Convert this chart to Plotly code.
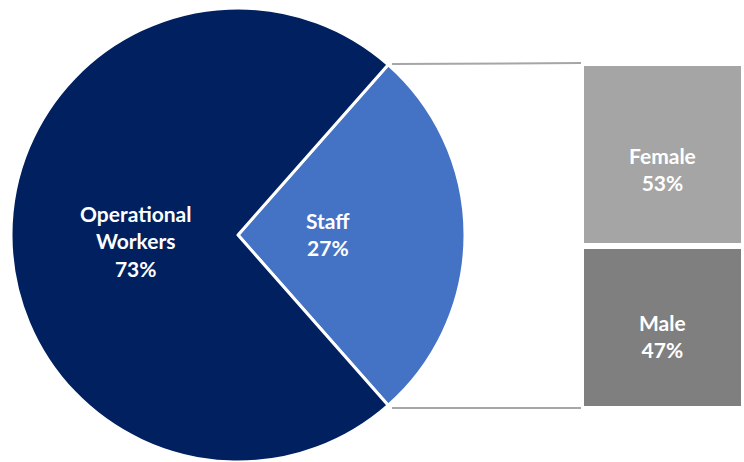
import plotly.graph_objects as go

W, H = 744, 462

pie_labels = ["Staff", "Operational<br>Workers"]
pie_values = [27, 73]
pie_colors = ["#4472C4", "#002060"]

bar_labels = ["Male", "Female"]
bar_values = [47, 53]
bar_colors = ["#7F7F7F", "#A5A5A5"]

FONT = "Lato, Calibri, Arial"
FS = 21

fig = go.Figure()

fig.add_trace(go.Pie(
    labels=pie_labels,
    values=pie_values,
    sort=False,
    direction="clockwise",
    rotation=90 - pie_values[0] / 100 * 360 / 2,
    marker=dict(colors=pie_colors, line=dict(color="white", width=3)),
    textinfo="none",
    domain=dict(x=[10 / W, 466 / W], y=[0, 1 - 8 / H]),
    showlegend=False,
    hoverinfo="label+percent",
))

for lab, val, col in zip(bar_labels, bar_values, bar_colors):
    fig.add_trace(go.Bar(
        x=["Staff"], y=[val], name=lab,
        marker=dict(color=col, line=dict(color="white", width=6)),
        width=1,
        showlegend=False,
        hoverinfo="name+y",
        xaxis="x", yaxis="y",
    ))

fig.update_layout(
    width=W, height=H,
    margin=dict(l=0, r=0, t=0, b=0),
    paper_bgcolor="white", plot_bgcolor="white",
    barmode="stack",
    bargap=0,
    xaxis=dict(domain=[581 / W, 1], visible=False, range=[-0.5, 0.5]),
    yaxis=dict(domain=[1 - 409 / H, 1 - 63 / H], visible=False, range=[0, 100]),
)

tot = sum(pie_values)
# pie labels
pie_label_pos = [(328, 234), (135, 241)]
for lab, val, (px, py) in zip(pie_labels, pie_values, pie_label_pos):
    fig.add_annotation(xref="paper", yref="paper", x=px / W, y=1 - py / H,
                       text=f"<b>{lab}<br>{round(val / tot * 100)}%</b>",
                       showarrow=False, xanchor="center", yanchor="middle",
                       font=dict(color="white", size=FS, family=FONT))

# bar labels
cum = 0
shifts = [-8, -14]
for lab, val, sh in zip(bar_labels, bar_values, shifts):
    fig.add_annotation(xref="x", yref="y", x="Staff", y=cum + val / 2, yshift=sh,
                       text=f"<b>{lab}<br>{val}%</b>",
                       showarrow=False, xanchor="center", yanchor="middle",
                       font=dict(color="white", size=FS, family=FONT))
    cum += val

# connector lines from pie slice edges to bar
for y0, y1 in [(1 - 64 / H, 1 - 63 / H), (1 - 408 / H, 1 - 408 / H)]:
    fig.add_shape(type="line", xref="paper", yref="paper",
                  x0=392 / W, x1=581 / W, y0=y0, y1=y1,
                  line=dict(color="#A6A6A6", width=2))

fig.write_html("out.html")
